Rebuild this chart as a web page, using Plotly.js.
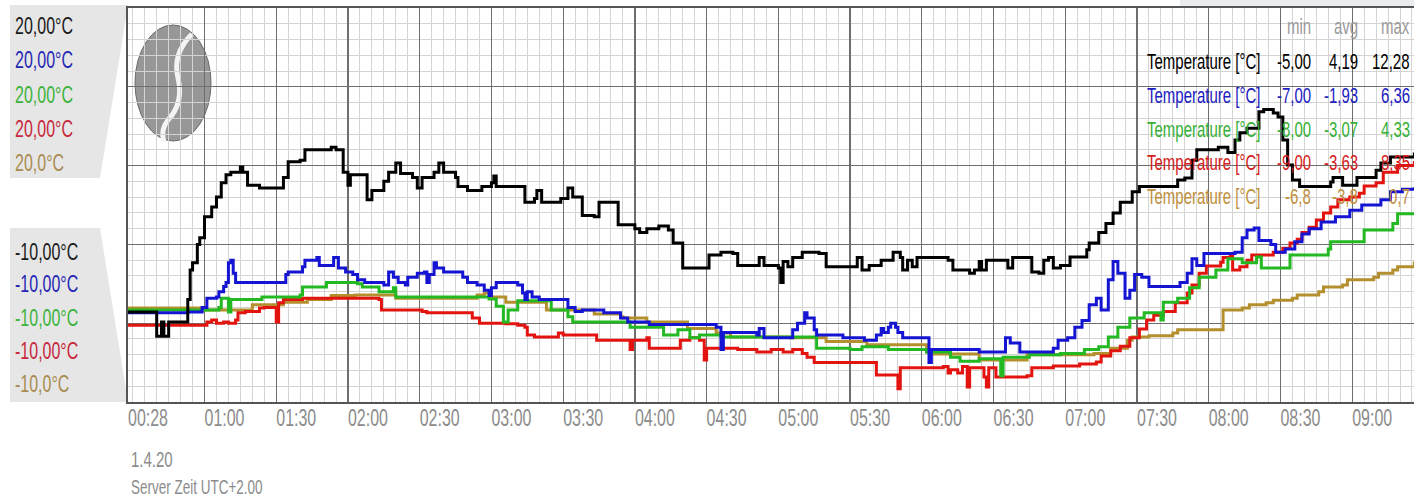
<!DOCTYPE html>
<html>
<head>
<meta charset="utf-8">
<script src="https://cdn.plot.ly/plotly-3.0.1.min.js"></script>
<style>
html,body{margin:0;padding:0;background:#fff;}
#chart{width:1414px;height:498px;}
#chart text.annotation-text, #chart .xtick text{transform-box:fill-box;transform-origin:center;scale:1 1.45;}
</style>
</head>
<body>
<div id="chart"></div>
<script>
var DAY = '2020-04-01 ';
var seriesNames = ['Temperature [°C]', 'Temperature [°C]', 'Temperature [°C]', 'Temperature [°C]', 'Temperature [°C]'];

var blackT = ["00:28","00:39","00:40","00:42","00:43","00:45","00:52","00:53","00:54","00:55","00:57","00:58","01:00","01:03","01:05","01:07","01:09","01:11","01:15","01:16","01:18","01:23","01:30","01:33","01:35","01:40","01:42","01:53","01:55","01:58","02:00","02:01","02:04","02:08","02:10","02:15","02:17","02:20","02:22","02:27","02:29","02:31","02:36","02:38","02:40","02:45","02:46","02:50","02:56","03:00","03:01","03:02","03:13","03:14","03:18","03:19","03:21","03:29","03:32","03:34","03:38","03:43","03:45","03:51","03:53","04:00","04:02","04:05","04:10","04:14","04:16","04:20","04:27","04:31","04:36","04:41","04:43","04:51","04:52","04:54","05:00","05:01","05:02","05:04","05:06","05:10","05:17","05:20","05:30","05:33","05:35","05:38","05:43","05:48","05:51","05:52","05:54","05:56","05:58","06:11","06:13","06:20","06:22","06:24","06:25","06:27","06:34","06:36","06:38","06:44","06:46","06:49","06:51","06:53","06:55","06:58","07:02","07:09","07:10","07:14","07:17","07:20","07:23","07:28","07:31","07:47","07:50","07:53","07:55","08:04","08:08","08:11","08:13","08:16","08:21","08:23","08:27","08:29","08:31","08:33","08:35","08:38","08:45","08:51","08:52","08:56","09:02","09:10","09:12","09:16","09:26"];
var blackV = [-3.15,-3.15,-5.0,-3.9,-5.0,-3.9,-3.9,-2.2,0.05,0.6,2.0,2.5,4.1,4.85,5.6,6.7,7.3,7.5,7.9,7.5,6.5,6.3,6.3,7.1,8.3,8.4,9.2,9.4,9.2,7.5,6.5,7.3,7.3,5.4,6.1,6.8,7.5,8.2,7.4,7.1,6.3,7.1,7.5,8.2,7.5,7.1,6.4,6.1,6.4,6.7,7.2,6.4,6.4,5.2,5.5,6.1,5.2,5.5,6.3,5.6,4.2,4.1,5.2,5.2,3.5,3.2,2.9,3.2,3.4,3.1,2.1,0.2,0.2,1.2,1.4,1.3,0.4,0.4,1.0,0.4,0.2,-0.9,0.7,0.3,1.0,1.4,1.3,0.3,0.3,1.0,0.05,0.4,0.8,1.4,1.0,0.05,0.8,0.3,1.0,0.8,0.05,-0.2,0.05,0.7,0.05,0.8,0.8,0.2,1.0,1.0,-0.1,-0.2,0.8,1.0,0.2,0.4,1.05,1.6,2.1,2.9,3.6,4.4,5.2,6.0,6.4,6.9,7.05,8.4,9.2,9.4,9.0,9.95,10.5,10.85,12.1,12.28,12.0,11.7,9.95,8.05,6.9,6.4,6.4,6.75,7.1,6.5,7.1,7.65,8.2,8.65,9.0];

var blueT = ["00:28","00:53","00:59","01:01","01:05","01:06","01:08","01:09","01:10","01:11","01:12","01:13","01:33","01:34","01:35","01:41","01:42","01:47","01:48","01:51","01:54","01:56","01:59","02:02","02:04","02:07","02:15","02:17","02:19","02:21","02:24","02:25","02:29","02:32","02:33","02:34","02:36","02:37","02:40","02:46","02:48","02:50","02:54","02:57","02:59","03:00","03:02","03:11","03:13","03:14","03:15","03:17","03:20","03:32","03:35","03:38","03:47","03:54","03:57","04:06","04:34","04:36","04:37","04:51","04:52","04:54","05:06","05:08","05:11","05:12","05:15","05:16","05:27","05:36","05:41","05:43","05:44","05:46","05:47","05:49","05:50","05:52","06:03","06:04","06:24","06:35","06:37","06:41","06:55","06:57","07:01","07:04","07:07","07:10","07:13","07:15","07:18","07:20","07:22","07:25","07:27","07:29","07:32","07:35","07:48","07:51","07:53","07:55","07:58","08:11","08:14","08:16","08:19","08:21","08:26","08:28","08:32","08:36","08:39","08:42","08:47","08:53","08:59","09:04","09:12","09:16","09:21","09:26"];
var blueV = [-3.2,-3.15,-2.8,-2.1,-2.0,-1.6,-1.2,-0.9,0.6,0.8,-0.2,-0.9,-0.9,-0.3,-0.1,0.3,0.8,1.0,0.4,0.4,1.0,0.2,-0.1,-0.3,-0.7,-0.9,-1.1,-0.1,-0.5,-0.9,-1.1,-0.5,-0.2,-0.1,-0.9,-0.3,0.6,0.2,-0.1,-0.1,-0.5,-0.9,-1.1,-1.5,-1.9,-1.3,-0.9,-1.1,-1.7,-2.2,-1.6,-2.0,-2.2,-2.8,-3.1,-3.0,-3.2,-3.6,-3.9,-4.1,-4.3,-6.0,-4.7,-4.9,-4.4,-5.1,-4.5,-4.0,-3.2,-3.6,-4.5,-4.9,-5.1,-5.3,-4.9,-4.4,-4.7,-4.3,-4.0,-4.3,-4.7,-5.1,-7.0,-6.0,-6.2,-5.1,-5.5,-6.2,-5.9,-5.3,-5.1,-4.3,-3.8,-2.6,-2.1,-3.0,-0.7,0.7,-0.2,-2.1,-1.5,-0.3,-0.5,-1.2,-0.9,-0.2,0.9,0.4,1.3,1.4,2.5,3.1,3.25,2.3,2.0,1.4,1.65,2.2,2.8,3.2,3.7,4.1,4.6,5.0,5.4,6.0,6.2,6.36];

var greenT = ["00:28","01:00","01:06","01:07","01:10","01:11","01:24","01:40","01:41","01:51","02:04","02:06","02:13","02:19","02:20","02:59","03:02","03:05","03:07","03:11","03:25","03:32","03:34","03:58","04:12","04:18","04:23","04:27","04:36","05:16","05:30","05:35","05:46","06:02","06:12","06:16","06:24","06:33","06:34","06:45","06:58","07:08","07:14","07:18","07:22","07:27","07:33","07:40","07:41","07:47","07:52","07:56","08:03","08:08","08:14","08:20","08:22","08:34","08:50","08:51","09:05","09:17","09:19","09:26"];
var greenV = [-3.0,-3.0,-2.8,-2.1,-3.15,-2.2,-2.0,-1.85,-1.25,-0.9,-1.0,-1.25,-1.6,-1.3,-2.0,-2.15,-2.7,-3.9,-3.0,-2.3,-3.0,-3.5,-3.9,-4.3,-4.9,-4.5,-5.1,-4.9,-5.05,-5.9,-6.0,-5.8,-6.0,-6.2,-6.6,-6.9,-6.7,-8.0,-6.6,-6.4,-6.3,-6.0,-5.8,-5.05,-4.3,-3.6,-3.2,-3.75,-2.4,-2.1,-1.3,-0.5,0.05,0.9,0.6,1.05,0.2,1.2,1.65,2.2,3.1,3.6,4.33,4.33];

var redT = ["00:28","01:01","01:03","01:05","01:08","01:10","01:13","01:14","01:17","01:23","01:25","01:30","01:31","01:33","01:41","02:13","02:14","02:31","02:33","02:52","02:55","03:06","03:11","03:14","03:15","03:18","03:28","03:30","03:44","03:58","03:59","04:05","04:06","04:19","04:23","04:27","04:29","04:30","04:43","04:51","04:57","05:02","05:06","05:10","05:12","05:15","05:41","05:50","05:51","06:09","06:11","06:12","06:15","06:17","06:19","06:20","06:26","06:27","06:28","06:31","06:44","06:46","06:55","07:06","07:13","07:15","07:19","07:23","07:27","07:31","07:34","07:37","07:41","07:46","07:51","07:53","07:56","07:59","08:05","08:06","08:09","08:10","08:13","08:16","08:18","08:27","08:31","08:34","08:37","08:39","08:42","08:45","08:48","08:51","08:54","08:59","09:03","09:05","09:10","09:13","09:19","09:26"];
var redV = [-4.15,-3.9,-3.75,-4.0,-3.9,-4.0,-3.75,-3.2,-3.1,-2.85,-2.8,-3.9,-2.45,-2.2,-2.1,-2.2,-3.0,-3.1,-3.2,-3.6,-4.0,-4.05,-4.15,-4.3,-4.9,-5.05,-4.75,-4.9,-5.3,-6.0,-5.3,-5.1,-5.9,-5.3,-5.1,-5.3,-6.8,-5.9,-6.0,-6.2,-6.0,-6.2,-6.0,-6.3,-6.6,-7.0,-7.95,-9.0,-7.4,-7.3,-7.8,-7.55,-7.8,-7.3,-8.85,-7.4,-8.1,-8.85,-7.4,-8.1,-8.0,-7.4,-7.25,-7.1,-6.95,-6.5,-6.1,-5.75,-5.1,-4.45,-3.75,-3.4,-3.1,-2.45,-1.7,-1.1,-0.2,0.35,0.65,1.0,1.2,0.05,0.3,0.8,1.2,1.4,1.7,2.1,2.4,2.9,3.3,3.85,4.4,4.85,5.4,5.6,5.9,6.45,6.7,7.5,8.0,8.35];

var oliveT = ["00:28","00:52","01:00","01:20","01:33","01:43","01:53","02:03","02:20","02:54","02:57","03:00","03:06","03:23","03:43","03:54","03:55","04:05","04:22","04:34","04:40","05:05","05:20","05:37","06:02","06:05","06:24","06:44","07:12","07:19","07:26","07:28","07:35","07:45","07:47","08:06","08:14","08:17","08:24","08:27","08:35","08:37","08:46","08:48","08:56","08:58","09:09","09:11","09:17","09:19","09:26"];
var oliveV = [-2.85,-2.85,-3.0,-2.6,-2.4,-2.2,-1.9,-1.85,-2.1,-1.85,-1.7,-2.0,-2.4,-3.0,-3.3,-3.5,-3.6,-3.9,-4.4,-4.75,-5.05,-5.1,-5.4,-5.65,-6.2,-6.35,-6.8,-6.4,-6.3,-5.9,-5.3,-5.05,-4.95,-4.75,-4.5,-3.0,-2.85,-2.6,-2.45,-2.25,-2.1,-1.85,-1.6,-1.25,-1.1,-0.7,-0.5,-0.2,0.05,0.3,0.7];

var tickTimes = ["00:28","01:00","01:30","02:00","02:30","03:00","03:30","04:00","04:30","05:00","05:30","06:00","06:30","07:00","07:30","08:00","08:30","09:00"];
var tickLabels = ["00:28","01:00","01:30","02:00","02:30","03:00","03:30","04:00","04:30","05:00","05:30","06:00","06:30","07:00","07:30","08:00","08:30","09:00"];

var axisTopLabels = ["20,00°C","20,00°C","20,00°C","20,00°C","20,0°C"];
var axisBottomLabels = ["-10,00°C","-10,00°C","-10,00°C","-10,00°C","-10,0°C"];
var statMin = ["-5,00","-7,00","-8,00","-9,00","-6,8"];
var statAvg = ["4,19","-1,93","-3,07","-3,63","-3,8"];
var statMax = ["12,28","6,36","4,33","8,35","0,7"];
var dateLabel = "1.4.20";
var zoneLabel = "Server Zeit UTC+2.00";

var lineColors = ['#000000','#1414d2','#22b922','#e3140f','#b48f2e'];
var labelColors = ['#1a1a1a','#2626b4','#3cb43c','#c8283c','#a88c50'];
var legendColors = ['#000000','#2020c0','#36b036','#d42020','#c09040'];

var FONT = '"Liberation Sans", Arial, sans-serif';

function toX(arr){ return arr.map(function(t){ return DAY + t; }); }

var order = [4,3,2,1,0];
var allT = [blackT, blueT, greenT, redT, oliveT];
var allV = [blackV, blueV, greenV, redV, oliveV];
var traces = order.map(function(i){
  return {
    type:'scatter', mode:'lines', name: seriesNames[i],
    x: toX(allT[i]), y: allV[i],
    line:{color: lineColors[i], width: 3, shape:'hv'},
    hoverinfo:'skip'
  };
});

var PLOT_TOP = 8, PLOT_BOTTOM = 402, PLOT_LEFT = 128;
var annotations = [];
var topCenters = [25, 59, 94, 128, 162];
var botCenters = [251, 283, 317, 350, 383];
for (var i=0;i<5;i++){
  annotations.push({xref:'paper', yref:'paper', x:0, y:1, xanchor:'left', yanchor:'middle',
    xshift: 13-PLOT_LEFT, yshift: -(topCenters[i]-PLOT_TOP), text: axisTopLabels[i], showarrow:false,
    font:{family:FONT, size:16, color: labelColors[i]}});
  annotations.push({xref:'paper', yref:'paper', x:0, y:1, xanchor:'left', yanchor:'middle',
    xshift: 13-PLOT_LEFT, yshift: -(botCenters[i]-PLOT_TOP), text: axisBottomLabels[i], showarrow:false,
    font:{family:FONT, size:16, color: labelColors[i]}});
}
var legRows = [61, 95, 129, 162, 196];
for (var j=0;j<5;j++){
  var f = {family:FONT, size:15, color: legendColors[j]};
  annotations.push({xref:'paper', yref:'paper', x:0, y:1, xanchor:'left', yanchor:'middle', showarrow:false,
    xshift: 1145-PLOT_LEFT, yshift: -(legRows[j]-PLOT_TOP), text: seriesNames[j], font:f});
  annotations.push({xref:'paper', yref:'paper', x:0, y:1, xanchor:'right', yanchor:'middle', showarrow:false,
    xshift: 1313-PLOT_LEFT, yshift: -(legRows[j]-PLOT_TOP), text: statMin[j], font:f});
  annotations.push({xref:'paper', yref:'paper', x:0, y:1, xanchor:'right', yanchor:'middle', showarrow:false,
    xshift: 1360-PLOT_LEFT, yshift: -(legRows[j]-PLOT_TOP), text: statAvg[j], font:f});
  annotations.push({xref:'paper', yref:'paper', x:0, y:1, xanchor:'right', yanchor:'middle', showarrow:false,
    xshift: 1412-PLOT_LEFT, yshift: -(legRows[j]-PLOT_TOP), text: statMax[j], font:f});
}
var hdr = ['min','avg','max'], hdrX = [1313,1360,1412];
for (var k=0;k<3;k++){
  annotations.push({xref:'paper', yref:'paper', x:0, y:1, xanchor:'right', yanchor:'middle', showarrow:false,
    xshift: hdrX[k]-PLOT_LEFT, yshift: -(26-PLOT_TOP), text: hdr[k], font:{family:FONT, size:15, color:'#9a9a9a'}});
}
annotations.push({xref:'paper', yref:'paper', x:0, y:0, xanchor:'left', yanchor:'middle', showarrow:false,
  xshift: 129-PLOT_LEFT, yshift: -(459-PLOT_BOTTOM), text: dateLabel, font:{family:FONT, size:15, color:'#8c8c8c'}});
annotations.push({xref:'paper', yref:'paper', x:0, y:0, xanchor:'left', yanchor:'middle', showarrow:false,
  xshift: 129-PLOT_LEFT, yshift: -(487-PLOT_BOTTOM), text: zoneLabel, font:{family:FONT, size:13.5, color:'#8c8c8c'}});

var shapes = [
  {type:'path', xref:'paper', yref:'paper', xsizemode:'pixel', ysizemode:'pixel', xanchor:0, yanchor:1,
   path:'M-118,3 L0,3 L-28,-170 L-118,-170 Z', fillcolor:'#e6e6e6', line:{width:0}, layer:'below'},
  {type:'path', xref:'paper', yref:'paper', xsizemode:'pixel', ysizemode:'pixel', xanchor:0, yanchor:0,
   path:'M-118,174 L-28,174 L0,0 L-118,0 Z', fillcolor:'#e6e6e6', line:{width:0}, layer:'below'},
  {type:'rect', xref:'paper', yref:'paper', xsizemode:'pixel', ysizemode:'pixel', xanchor:0, yanchor:1,
   x0:1052, x1:1300, y0:1, y1:8, fillcolor:'#e9edf0', line:{width:0}, layer:'below'},
  {type:'circle', xref:'paper', yref:'paper', xsizemode:'pixel', ysizemode:'pixel', xanchor:0, yanchor:1,
   x0:7, x1:83, y0:-133, y1:-17, fillcolor:'#8c8c8c', line:{color:'#5a5a5a', width:1}, opacity:0.9, layer:'below'},
  {type:'path', xref:'paper', yref:'paper', xsizemode:'pixel', ysizemode:'pixel', xanchor:0, yanchor:1,
   path:'M64,-26 Q44,-46 50,-70 Q56,-95 40,-112 Q32,-122 36,-134', line:{color:'#f4f4f4', width:5}, layer:'below'}
];

var layout = {
  width:1414, height:498,
  margin:{l:128, r:0, t:8, b:96, pad:0},
  paper_bgcolor:'#ffffff', plot_bgcolor:'#ffffff',
  showlegend:false,
  xaxis:{
    type:'date',
    range:[DAY+'00:28:00', DAY+'09:25:51'],
    tickmode:'array', tickvals: toX(tickTimes), ticktext: tickLabels,
    showgrid:true, gridcolor:'#6e6e6e', gridwidth:1.3,
    minor:{tickmode:'linear', tick0: DAY+'00:00', dtick: 300000, showgrid:true, gridcolor:'#d4d4d4', gridwidth:1, ticks:''},
    showline:true, mirror:true, linecolor:'#555555', linewidth:2,
    ticks:'', ticklabelshift:20, ticklabelstandoff:0,
    tickfont:{family:FONT, size:16, color:'#8c8c8c'},
    zeroline:false, fixedrange:true
  },
  yaxis:{
    range:[-10,20], tickmode:'linear', tick0:-10, dtick:6,
    showticklabels:false, ticks:'',
    showgrid:true, gridcolor:'#6e6e6e', gridwidth:1.3,
    minor:{tickmode:'linear', tick0:-10, dtick:1.2, showgrid:true, gridcolor:'#d4d4d4', gridwidth:1, ticks:''},
    showline:true, mirror:false, linecolor:'#555555', linewidth:2,
    zeroline:false, fixedrange:true
  },
  annotations: annotations,
  shapes: shapes
};

Plotly.newPlot('chart', traces, layout, {staticPlot:true, displayModeBar:false});
</script>
</body>
</html>
